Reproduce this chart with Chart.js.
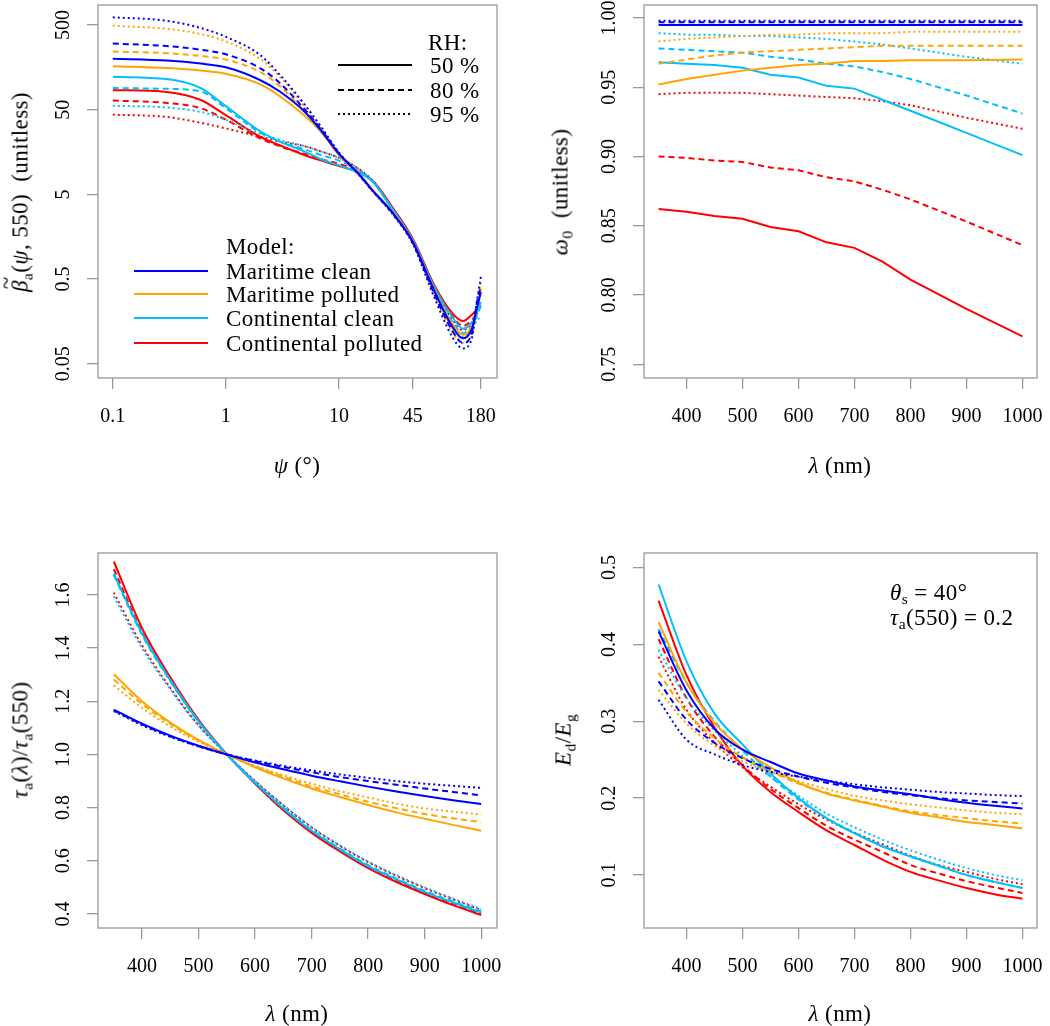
<!DOCTYPE html>
<html>
<head>
<meta charset="utf-8">
<script src="https://cdn.jsdelivr.net/npm/chart.js@4.4.1/dist/chart.umd.min.js"></script>
<style>
body { margin: 0; background: #fff; }
#wrap { position: relative; width: 1050px; height: 1026px; font-family: "Liberation Serif", serif; color: #000; overflow: hidden; }
canvas { position: absolute; }
.t { position: absolute; white-space: nowrap; font-size: 23px; line-height: 1; letter-spacing: 0.4px; }
.rot { transform: translate(-50%, -50%) rotate(-90deg); }
.ctr { transform: translate(-50%, -50%); }
.midy { transform: translateY(-50%); }
sub { font-size: 68%; vertical-align: -0.3em; line-height: 0; }
.acc { position: relative; display: inline-block; }
.acc b { position: absolute; left: 0.12em; top: -0.62em; font-weight: normal; font-style: normal; }
.sw { position: absolute; }
</style>
</head>
<body>
<div id="wrap">
  <canvas id="c1" width="525" height="500" style="left:0;top:0"></canvas>
  <canvas id="c2" width="525" height="500" style="left:525px;top:0"></canvas>
  <canvas id="c3" width="525" height="526" style="left:0;top:500px"></canvas>
  <canvas id="c4" width="525" height="526" style="left:525px;top:500px"></canvas>

  <div class="t rot" style="left:20px;top:192px"><span class="acc"><i>β</i><b>~</b></span><sub>a</sub>(<i>ψ</i>, 550)&nbsp; (unitless)</div>
  <div class="t ctr" style="left:297px;top:465px"><i>ψ</i> (°)</div>
  <div class="t rot" style="left:560px;top:192px"><i>ω</i><sub>0</sub>&nbsp; (unitless)</div>
  <div class="t ctr" style="left:840px;top:465px"><i>λ</i> (nm)</div>
  <div class="t rot" style="left:20px;top:740px"><i>τ</i><sub>a</sub>(<i>λ</i>)/<i>τ</i><sub>a</sub>(550)</div>
  <div class="t ctr" style="left:297px;top:1013px"><i>λ</i> (nm)</div>
  <div class="t rot" style="left:563px;top:740px"><i>E</i><sub>d</sub>/<i>E</i><sub>g</sub></div>
  <div class="t ctr" style="left:840px;top:1013px"><i>λ</i> (nm)</div>
  <div class="t midy" style="left:890px;top:592px"><i>θ</i><sub>s</sub> = 40°</div>
  <div class="t midy" style="left:890px;top:617px"><i>τ</i><sub>a</sub>(550) = 0.2</div>
  <div id="legend"></div>
</div>
<script>
// ---- categories / labels ----
const modelNames = ['Maritime clean', 'Maritime polluted', 'Continental clean', 'Continental polluted'];
const rhLabels = ['50 %', '80 %', '95 %'];
const modelColors = ['#0000ff', '#ffa500', '#00bfff', '#ff0000'];
const rhDashes = [[], [6, 4], [2, 3]];

// ---- panel 1: phase function vs scattering angle (each: [RH50, RH80, RH95]) ----
const psiDeg = [0.1, 0.3, 0.6, 1, 2, 3, 5, 7, 10, 15, 20, 30, 45, 70, 100, 125, 150, 165, 180];
const phaseMaritimeClean = [
  [200, 190, 175, 158, 112, 82, 47, 28, 15, 8.7, 5.5, 3.0, 1.38, 0.36, 0.14, 0.10, 0.13, 0.22, 0.35],
  [301, 282, 255, 225, 155, 103, 50, 29, 15.3, 8.6, 5.45, 2.95, 1.34, 0.33, 0.125, 0.088, 0.115, 0.25, 0.42],
  [616, 560, 460, 362, 222, 129, 57, 31, 15.6, 8.5, 5.4, 2.9, 1.3, 0.30, 0.105, 0.076, 0.10, 0.26, 0.53]
];
const phaseMaritimePolluted = [
  [163, 155, 145, 133, 100, 72, 42, 27, 14.5, 8.8, 5.6, 3.05, 1.4, 0.37, 0.15, 0.11, 0.14, 0.22, 0.38],
  [243, 232, 215, 195, 140, 95, 47, 28, 15, 8.7, 5.5, 3.0, 1.37, 0.35, 0.135, 0.10, 0.13, 0.23, 0.42],
  [490, 450, 390, 320, 200, 122, 54, 30, 15.5, 8.6, 5.45, 2.95, 1.33, 0.32, 0.12, 0.088, 0.115, 0.24, 0.45]
];
const phaseContinentalClean = [
  [122, 115, 90, 55, 28, 21, 16, 13, 11, 9.0, 7.0, 3.3, 1.45, 0.40, 0.18, 0.13, 0.155, 0.20, 0.27],
  [90, 88, 82, 52, 27, 21, 17, 14.5, 12.5, 9.5, 7.0, 3.25, 1.42, 0.38, 0.16, 0.115, 0.14, 0.18, 0.24],
  [55.7, 53, 47, 38, 26, 22, 18.5, 16, 13.5, 10, 7.1, 3.2, 1.40, 0.37, 0.15, 0.105, 0.125, 0.16, 0.18]
];
const phaseContinentalPolluted = [
  [85, 81, 65, 43, 24, 19, 14.5, 12.5, 10.8, 9.1, 7.2, 3.45, 1.5, 0.42, 0.2, 0.16, 0.19, 0.215, 0.243],
  [64, 60, 52, 38, 23, 18.5, 15, 13, 11.5, 9.3, 7.1, 3.4, 1.47, 0.40, 0.185, 0.14, 0.165, 0.20, 0.26],
  [43.7, 41, 35, 30, 24, 21, 18.5, 16, 13.5, 10, 7.2, 3.35, 1.45, 0.39, 0.17, 0.125, 0.15, 0.19, 0.28]
];

// ---- panel 2: single scattering albedo ----
const wavelengthSsa = [350, 400, 450, 500, 550, 600, 650, 700, 750, 800, 900, 1000];
const ssaMaritimeClean = [
  [0.995, 0.995, 0.995, 0.995, 0.995, 0.995, 0.995, 0.995, 0.995, 0.995, 0.995, 0.995],
  [0.997, 0.997, 0.997, 0.997, 0.997, 0.997, 0.997, 0.997, 0.997, 0.997, 0.997, 0.997],
  [0.998, 0.998, 0.998, 0.998, 0.998, 0.998, 0.998, 0.998, 0.998, 0.998, 0.998, 0.998]
];
const ssaMaritimePolluted = [
  [0.952, 0.956, 0.959, 0.962, 0.964, 0.966, 0.967, 0.969, 0.969, 0.9695, 0.9695, 0.970],
  [0.967, 0.970, 0.973, 0.975, 0.976, 0.977, 0.978, 0.979, 0.980, 0.980, 0.980, 0.980],
  [0.983, 0.985, 0.986, 0.987, 0.988, 0.988, 0.989, 0.989, 0.989, 0.990, 0.990, 0.990]
];
const ssaContinentalClean = [
  [0.968, 0.967, 0.966, 0.964, 0.959, 0.957, 0.951, 0.949, 0.941, 0.933, 0.917, 0.901],
  [0.978, 0.977, 0.976, 0.975, 0.972, 0.970, 0.967, 0.965, 0.961, 0.956, 0.944, 0.931],
  [0.989, 0.988, 0.988, 0.987, 0.987, 0.986, 0.985, 0.983, 0.981, 0.978, 0.972, 0.967]
];
const ssaContinentalPolluted = [
  [0.862, 0.860, 0.857, 0.855, 0.849, 0.846, 0.838, 0.834, 0.824, 0.811, 0.790, 0.770],
  [0.900, 0.899, 0.897, 0.896, 0.892, 0.890, 0.885, 0.882, 0.876, 0.869, 0.853, 0.836],
  [0.945, 0.946, 0.946, 0.946, 0.945, 0.944, 0.943, 0.942, 0.940, 0.937, 0.928, 0.920]
];

// ---- panels 3 & 4 ----
const wavelength = [350, 400, 450, 500, 550, 600, 650, 700, 750, 800, 850, 900, 950, 1000];
const aotMaritimeClean = [
  [1.169, 1.116, 1.071, 1.033, 1.0, 0.970, 0.944, 0.920, 0.899, 0.879, 0.861, 0.844, 0.828, 0.814],
  [1.166, 1.113, 1.068, 1.031, 1.0, 0.975, 0.953, 0.933, 0.915, 0.9, 0.886, 0.872, 0.859, 0.846],
  [1.163, 1.11, 1.066, 1.03, 1.0, 0.977, 0.957, 0.94, 0.925, 0.912, 0.9, 0.89, 0.882, 0.874]
];
const aotMaritimePolluted = [
  [1.302, 1.2, 1.12, 1.055, 1.0, 0.952, 0.91, 0.872, 0.84, 0.81, 0.782, 0.758, 0.735, 0.713],
  [1.282, 1.19, 1.115, 1.052, 1.0, 0.955, 0.916, 0.88, 0.85, 0.822, 0.798, 0.776, 0.76, 0.745],
  [1.26, 1.175, 1.105, 1.048, 1.0, 0.958, 0.922, 0.89, 0.862, 0.838, 0.815, 0.797, 0.785, 0.774]
];
const aotContinentalClean = [
  [1.68, 1.455, 1.28, 1.125, 1.0, 0.893, 0.797, 0.713, 0.643, 0.58, 0.53, 0.483, 0.443, 0.405],
  [1.675, 1.45, 1.275, 1.122, 1.0, 0.895, 0.8, 0.716, 0.646, 0.584, 0.533, 0.487, 0.447, 0.41],
  [1.594, 1.40, 1.245, 1.108, 1.0, 0.9, 0.81, 0.727, 0.658, 0.597, 0.546, 0.5, 0.458, 0.418]
];
const aotContinentalPolluted = [
  [1.726, 1.475, 1.29, 1.13, 1.0, 0.89, 0.79, 0.705, 0.635, 0.572, 0.52, 0.475, 0.433, 0.396],
  [1.697, 1.46, 1.28, 1.125, 1.0, 0.893, 0.795, 0.71, 0.64, 0.578, 0.527, 0.48, 0.44, 0.402],
  [1.609, 1.41, 1.25, 1.11, 1.0, 0.9, 0.808, 0.725, 0.656, 0.595, 0.543, 0.497, 0.455, 0.415]
];
const edegMaritimeClean = [
  [0.417, 0.34, 0.29, 0.263, 0.247, 0.232, 0.223, 0.215, 0.21, 0.205, 0.199, 0.194, 0.19, 0.1866],
  [0.352, 0.302, 0.272, 0.252, 0.238, 0.228, 0.22, 0.214, 0.208, 0.204, 0.2, 0.197, 0.195, 0.193],
  [0.328, 0.276, 0.257, 0.243, 0.234, 0.228, 0.223, 0.218, 0.214, 0.211, 0.208, 0.206, 0.204, 0.2026]
];
const edegMaritimePolluted = [
  [0.429, 0.35, 0.298, 0.264, 0.24, 0.22, 0.206, 0.197, 0.189, 0.181, 0.175, 0.169, 0.165, 0.1605],
  [0.363, 0.312, 0.278, 0.253, 0.235, 0.219, 0.207, 0.198, 0.19, 0.183, 0.178, 0.174, 0.17, 0.167],
  [0.341, 0.297, 0.268, 0.248, 0.234, 0.222, 0.212, 0.203, 0.197, 0.192, 0.188, 0.184, 0.181, 0.179]
];
const edegContinentalClean = [
  [0.478, 0.378, 0.31, 0.27, 0.232, 0.2, 0.174, 0.154, 0.137, 0.124, 0.112, 0.1, 0.091, 0.083],
  [0.42, 0.35, 0.3, 0.262, 0.228, 0.198, 0.174, 0.155, 0.138, 0.124, 0.112, 0.1, 0.091, 0.0832],
  [0.393, 0.33, 0.288, 0.255, 0.228, 0.203, 0.18, 0.162, 0.146, 0.132, 0.12, 0.109, 0.1, 0.0932]
];
const edegContinentalPolluted = [
  [0.457, 0.36, 0.292, 0.242, 0.208, 0.182, 0.158, 0.139, 0.12, 0.104, 0.093, 0.083, 0.075, 0.069],
  [0.407, 0.33, 0.28, 0.243, 0.212, 0.187, 0.164, 0.146, 0.13, 0.113, 0.102, 0.092, 0.084, 0.0766],
  [0.384, 0.315, 0.272, 0.24, 0.215, 0.192, 0.172, 0.155, 0.14, 0.125, 0.113, 0.104, 0.095, 0.088]
];

// ---- tick labels ----
const psiTicks = [0.1, 1, 10, 45, 180];
const phaseTicks = [0.05, 0.5, 5, 50, 500];
const wlTicks = [400, 500, 600, 700, 800, 900, 1000];
const ssaTicks = [0.75, 0.80, 0.85, 0.90, 0.95, 1.00];
const aotTicks = [0.4, 0.6, 0.8, 1.0, 1.2, 1.4, 1.6];
const edegTicks = [0.1, 0.2, 0.3, 0.4, 0.5];

const FONT = 'Liberation Serif';
const GREY = '#999';

const boxPlugin = {
  id: 'box',
  afterDraw(chart) {
    const { ctx, chartArea: a } = chart;
    ctx.save();
    ctx.strokeStyle = GREY;
    ctx.lineWidth = 1.3;
    ctx.strokeRect(a.left, a.top, a.right - a.left, a.bottom - a.top);
    ctx.restore();
  }
};

function buildSets(xs, groups, smooth) {
  const sets = [];
  groups.forEach((g, m) => g.forEach((ys, r) => sets.push({
    data: ys.map((y, i) => ({ x: xs[i], y: y })),
    borderColor: modelColors[m],
    borderDash: rhDashes[r],
    borderWidth: 2,
    pointRadius: 0,
    fill: false,
    tension: 0,
    cubicInterpolationMode: smooth ? 'monotone' : 'default'
  })));
  return sets;
}

function axis(type, min, max, ticks, fmt, vertical, size, pad) {
  return {
    type: type, min: min, max: max,
    position: vertical ? 'left' : 'bottom',
    grid: { display: true, drawOnChartArea: false, drawTicks: true, tickLength: 11, color: GREY, lineWidth: 1.3 },
    border: { display: false },
    ticks: {
      color: '#000', font: { family: FONT, size: 20 }, padding: pad, autoSkip: false,
      minRotation: vertical ? 90 : 0, maxRotation: vertical ? 90 : 0,
      crossAlign: vertical ? 'center' : 'near',
      callback: v => fmt(v)
    },
    afterBuildTicks: s => { s.ticks = ticks.map(v => ({ value: v })); },
    afterFit: s => {
      if (vertical) s.width = size; else s.height = size;
      s.paddingTop = 0; s.paddingBottom = 0; s.paddingLeft = 0; s.paddingRight = 0;
    }
  };
}

function makeChart(id, datasets, xAxis, yAxis, padding) {
  return new Chart(document.getElementById(id), {
    type: 'line',
    data: { datasets: datasets },
    options: {
      responsive: false, animation: false, devicePixelRatio: 1,
      layout: { padding: padding },
      plugins: { legend: { display: false }, tooltip: { enabled: false } },
      scales: { x: xAxis, y: yAxis }
    },
    plugins: [boxPlugin]
  });
}

makeChart('c1',
  buildSets(psiDeg, [phaseMaritimeClean, phaseMaritimePolluted, phaseContinentalClean, phaseContinentalPolluted], true),
  axis('logarithmic', 0.074, 250, psiTicks, v => String(v), false, 122, 16),
  axis('logarithmic', 0.034, 860, phaseTicks, v => String(v), true, 98, 6),
  { top: 5, right: 28, left: 0, bottom: 0 });

makeChart('c2',
  buildSets(wavelengthSsa, [ssaMaritimeClean, ssaMaritimePolluted, ssaContinentalClean, ssaContinentalPolluted], false),
  axis('linear', 324, 1026, wlTicks, v => String(v), false, 122, 16),
  axis('linear', 0.740, 1.0094, ssaTicks, v => v.toFixed(2), true, 119, 5.5),
  { top: 5, right: 13, left: 0, bottom: 0 });

makeChart('c3',
  buildSets(wavelength, [aotMaritimeClean, aotMaritimePolluted, aotContinentalClean, aotContinentalPolluted], true),
  axis('linear', 322, 1028, wlTicks, v => String(v), false, 98, 16),
  axis('linear', 0.347, 1.758, aotTicks, v => v.toFixed(1), true, 98, 11),
  { top: 53, right: 28, left: 0, bottom: 0 });

makeChart('c4',
  buildSets(wavelength, [edegMaritimeClean, edegMaritimePolluted, edegContinentalClean, edegContinentalPolluted], true),
  axis('linear', 324, 1026, wlTicks, v => String(v), false, 98, 16),
  axis('linear', 0.031, 0.519, edegTicks, v => v.toFixed(1), true, 119, 10.5),
  { top: 53, right: 13, left: 0, bottom: 0 });

// ---- legends (panel 1) ----
function swatch(x, y, color, dash) {
  return '<svg class="sw" style="left:' + x + 'px;top:' + (y - 3) + 'px" width="74" height="6">' +
    '<line x1="0" y1="3" x2="74" y2="3" stroke="' + color + '" stroke-width="2"' +
    (dash.length ? ' stroke-dasharray="' + dash.join(',') + '"' : '') + '/></svg>';
}
let html = '<div class="t midy" style="left:428px;top:42px">RH:</div>';
const rhY = [65, 90, 114];
rhLabels.forEach((lab, i) => {
  html += swatch(338, rhY[i], '#000', rhDashes[i]);
  html += '<div class="t midy" style="left:430px;top:' + rhY[i] + 'px">' + lab + '</div>';
});
html += '<div class="t midy" style="left:226px;top:246px">Model:</div>';
const modelY = [271, 294, 318, 343];
modelNames.forEach((lab, i) => {
  html += swatch(134, modelY[i], modelColors[i], []);
  html += '<div class="t midy" style="left:226px;top:' + modelY[i] + 'px">' + lab + '</div>';
});
document.getElementById('legend').innerHTML = html;
</script>
</body>
</html>
